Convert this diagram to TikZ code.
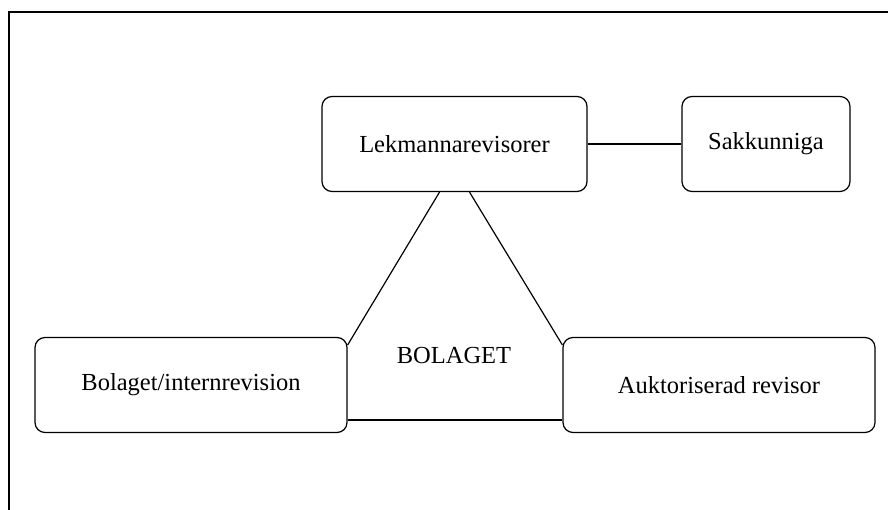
\documentclass[tikz,border=0pt]{standalone}
\usepackage{fontspec}
\setmainfont{Liberation Serif}
\usepackage{tikz}
\usetikzlibrary{positioning,calc}

\begin{document}
\begin{tikzpicture}[x=1pt,y=-1pt,
    party/.style={draw,line width=1.2pt,rounded corners=10pt,minimum height=95pt,font=\fontsize{24.5}{28}\selectfont},
    link/.style={line width=1.2pt}]
        \useasboundingbox (0,0) rectangle (888,510);
        \draw[line width=2pt] (9,515)--(9,12)--(893,12);
        \node[party,minimum width=265pt] (lek) at (454.5,144) {Lekmannarevisorer};
        \node[party,minimum width=168pt] (sak) at (766,144) {Sakkunniga};
        \node[party,minimum width=312pt] (bol) at (191,385) {Bolaget/internrevision};
        \node[party,minimum width=312pt] (auk) at (719,385) {Auktoriserad revisor};
        \node[font=\fontsize{24.5}{28}\selectfont] (mid) at (454,356) {BOLAGET};
        \draw[link] (lek)--(sak);
        \draw[link] ([xshift=-15pt]lek.south)--([yshift=40pt]bol.east);
        \draw[link] ([xshift=15pt]lek.south)--([yshift=40pt]auk.west);
        \draw[link] ([yshift=-35pt]bol.east)--([yshift=-35pt]auk.west);
      \end{tikzpicture}
\end{document}
